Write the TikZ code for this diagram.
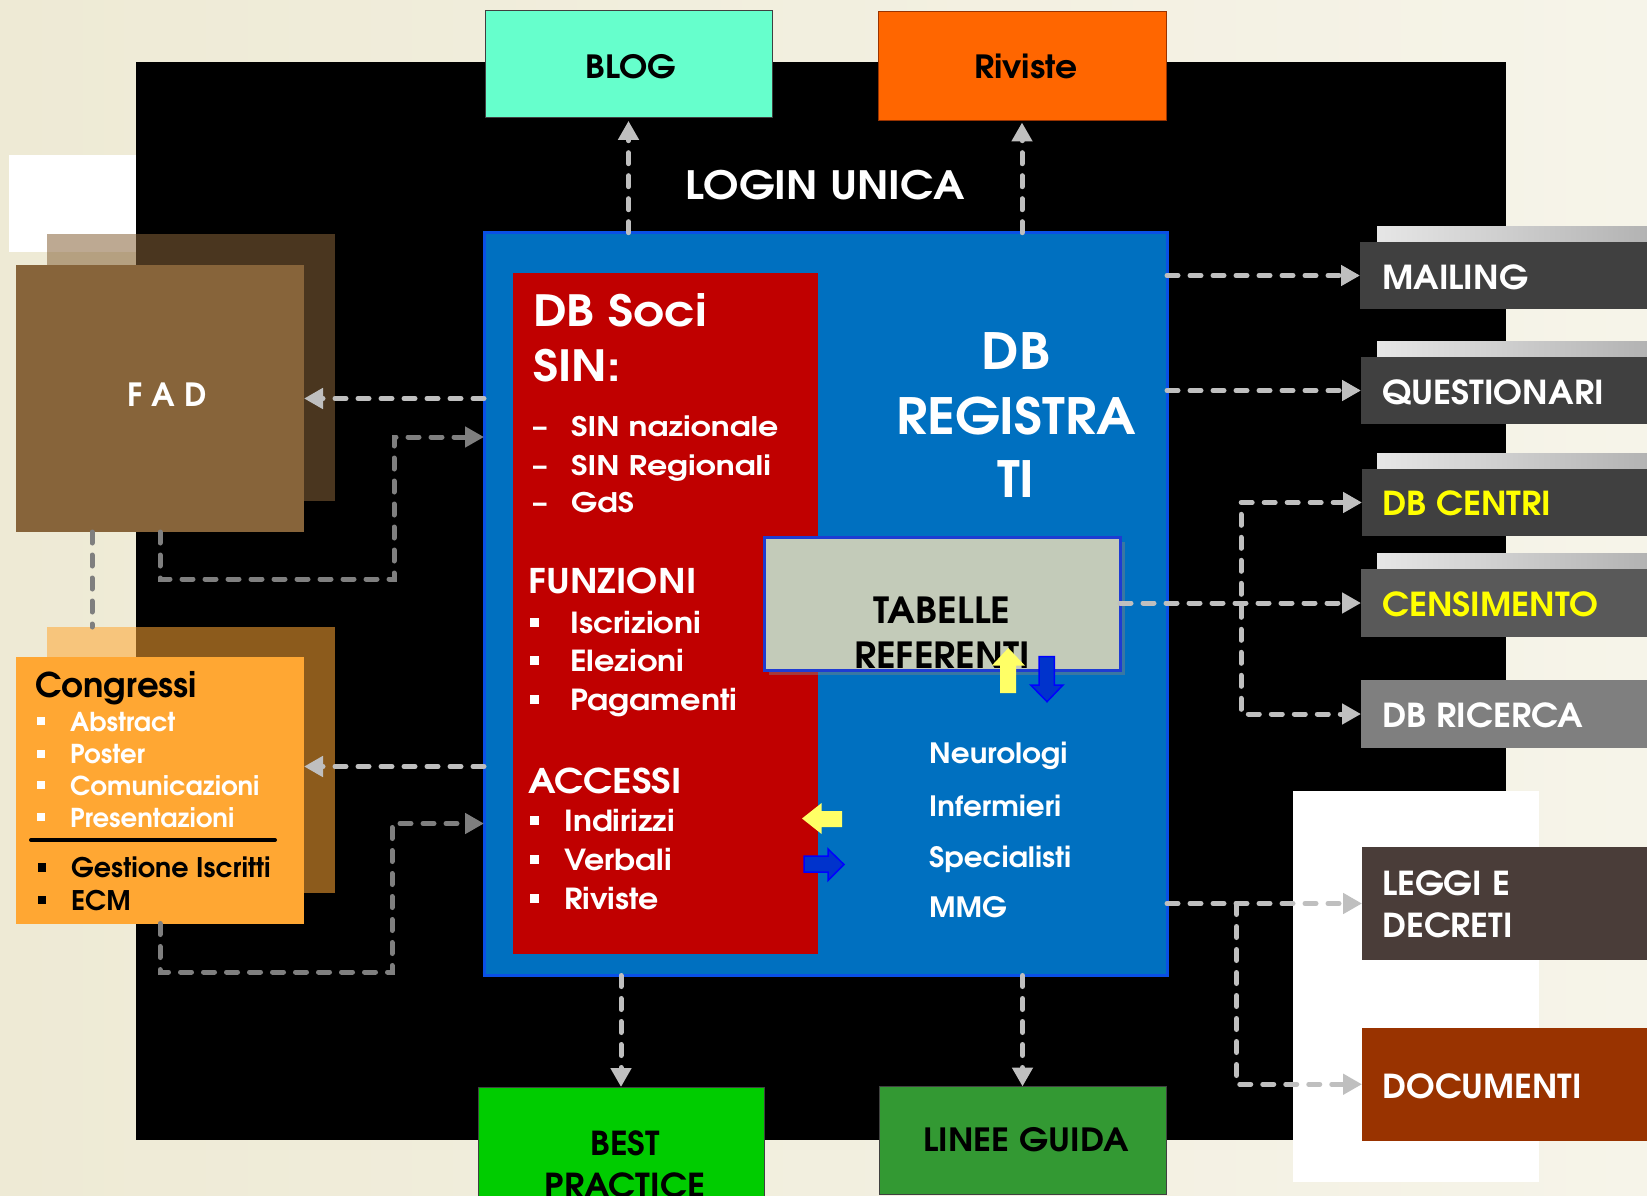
\documentclass[tikz,border=0pt]{standalone}
\usepackage{fontspec}
\usepackage{graphicx}
\setmainfont{texgyreadventor-regular.otf}[BoldFont=texgyreadventor-bold.otf]
\usetikzlibrary{arrows.meta,shadows}
\definecolor{bgL}{HTML}{EEEAD5}
\definecolor{bgR}{HTML}{F6F4E9}
\definecolor{fadc}{HTML}{87643A}
\definecolor{congc}{HTML}{FFA733}
\definecolor{blogc}{HTML}{66FFCC}
\definecolor{rivc}{HTML}{FF6600}
\definecolor{bluec}{HTML}{0070C0}
\definecolor{blueb}{HTML}{0A50E6}
\definecolor{redc}{HTML}{C00000}
\definecolor{tabc}{HTML}{C3CBB9}
\definecolor{tabb}{HTML}{1E3CD2}
\definecolor{dk}{HTML}{404040}
\definecolor{censc}{HTML}{595959}
\definecolor{ricc}{HTML}{7F7F7F}
\definecolor{leggic}{HTML}{4A3D39}
\definecolor{docc}{HTML}{993300}
\definecolor{bestc}{HTML}{00CC00}
\definecolor{lineec}{HTML}{339933}
\definecolor{lgray}{HTML}{BFBFBF}
\definecolor{dgray}{HTML}{7F7F7F}
\definecolor{barL}{HTML}{E6E6E6}
\definecolor{barR}{HTML}{B3B3B3}
\definecolor{ylw}{HTML}{FFFF66}
\definecolor{ylwt}{HTML}{FFFF00}
\definecolor{arrb}{HTML}{0033CC}
\newcommand\fs[1]{\fontsize{#1}{#1}\selectfont\bfseries}
\newcommand\fr[1]{\fontsize{#1}{#1}\selectfont}
\newcommand\sqbul{\rule[0.22em]{0.3em}{0.3em}}
\newcommand\hs[2]{\scalebox{#1}[1]{#2}}
\begin{document}
\begin{tikzpicture}[x=1pt,y=-1pt,
  box/.style={rectangle, inner sep=0pt, outer sep=0pt, anchor=north west},
  tl/.style={inner sep=0pt, anchor=base west},
  tc/.style={inner sep=0pt, anchor=base},
  conn/.style={draw=lgray, line width=5pt, line cap=round, dash pattern=on 11pt off 12pt},
  arr/.style={conn, -{Triangle[length=19pt,width=20pt]}},
  darr/.style={arr, draw=dgray}]
\clip (0,0) rectangle (1647,1196);
\shade[left color=bgL, right color=bgR] (0,0) rectangle (1647,1196);
% backdrop
\fill[white] (9,155) rectangle (136,252);
\fill[black] (136,62.4) rectangle (1506,1140);
\fill[white] (1293,791) rectangle (1539,1182);
% left boxes
\node[box, fill=fadc, fill opacity=.55, minimum width=288pt, minimum height=266.6pt] (fadsh) at (47,234) {};
\node[box, fill=fadc, minimum width=288pt, minimum height=267pt] (fad) at (16,265) {};
\node[box, fill=congc, fill opacity=.55, minimum width=288pt, minimum height=266.4pt] (congsh) at (47,627) {};
\node[box, fill=congc, minimum width=288pt, minimum height=266.5pt] (cong) at (16,657) {};
% top boxes
\node[box, fill=blogc, draw=dk, line width=1pt, minimum width=287pt, minimum height=107.6pt] (blog) at (485,10.3) {};
\node[box, fill=rivc, draw=docc, line width=1pt, minimum width=288pt, minimum height=108.5pt] (riv) at (878,12) {};
% right boxes
\shade[left color=barL, right color=barR] (1377,226) rectangle (1647,242);
\shade[left color=barL, right color=barR] (1377,341) rectangle (1647,357);
\shade[left color=barL, right color=barR] (1377,453) rectangle (1647,469);
\shade[left color=barL, right color=barR] (1377,553) rectangle (1647,569);
\node[box, fill=dk, minimum width=287pt, minimum height=67pt] (mail) at (1360,242) {};
\node[box, fill=dk, minimum width=286pt, minimum height=67pt] (quest) at (1361,357) {};
\node[box, fill=dk, minimum width=285pt, minimum height=67pt] (dbc) at (1362,469) {};
\node[box, fill=censc, minimum width=286pt, minimum height=68pt] (cens) at (1361,569) {};
\node[box, fill=ricc, minimum width=286pt, minimum height=68pt] (dbr) at (1361,680) {};
\node[box, fill=leggic, minimum width=285pt, minimum height=113pt] (leggi) at (1362,847) {};
\node[box, fill=docc, minimum width=285pt, minimum height=112.5pt] (docs) at (1362,1028) {};
% bottom boxes
\node[box, fill=bestc, draw=dk, line width=1pt, minimum width=286pt, minimum height=118pt] (best) at (478,1087) {};
\node[box, fill=lineec, draw=dk, line width=1pt, minimum width=287pt, minimum height=107.5pt] (linee) at (879,1086.5) {};
% central
\node[box, fill=bluec, draw=blueb, line width=3pt, minimum width=683pt, minimum height=742.8pt] (blue) at (484,232.7) {};
\node[box, fill=redc, minimum width=305pt, minimum height=681.5pt] (red) at (513,272.5) {};
\node[box, fill=tabc, draw=tabb, line width=3pt, minimum width=356pt, minimum height=133pt,
  drop shadow={shadow xshift=5pt, shadow yshift=-5pt, opacity=.45}] (tab) at (764,537) {};
% connectors
\draw[arr, shorten >=3pt] (blog.south |- blue.north) -- (blog.south);
\draw[arr, shorten >=2pt] (riv.south |- blue.north) -- (riv.south);
\draw[arr] (blue.west |- fad.east) -- (fad.east);
\coordinate (fa) at (394,579);
\coordinate (fb) at (0,437);
\draw[darr] (fad.south) |- (fa) |- (blue.west |- fb);
\coordinate (cy) at (0,766.5);
\draw[arr] (blue.west |- cy) -- (cong.east |- cy);
\coordinate (ca) at (392,972);
\coordinate (cb) at (0,823.5);
\draw[darr] (cong.south) |- (ca) |- (blue.west |- cb);
\coordinate (vx) at (92,0);
\draw[conn, draw=dgray] (fad.south -| vx) -- (congsh.north -| vx);
\draw[arr] (blue.east |- mail.west) -- (mail.west);
\draw[arr] (blue.east |- quest.west) -- (quest.west);
\draw[arr] (tab.east |- cens.west) -- (cens.west);
\coordinate (bx) at (1241,0);
\draw[conn, {Triangle[length=19pt,width=20pt]}-{Triangle[length=19pt,width=20pt]}] (dbc.west) -| (bx |- cens.west) |- (dbr.west);
\draw[arr] (blue.east |- leggi.west) -- (leggi.west);
\coordinate (lx) at (1236.5,0);
\draw[arr] (leggi.west -| lx) |- (docs.west);
\draw[arr] (best.north |- blue.south) -- (best.north);
\draw[arr] (linee.north |- blue.south) -- (linee.north);
% texts top
\node[tc, font={\fs{32}}, text=black] (blogt) at (631,78.5) {\hs{1.06}{BLOG}};
\node[tc, font={\fs{32}}, text=black] (rivt) at (1026,78.5) {\hs{1.08}{Riviste}};
\node[tc, font={\fs{39}}, text=white] (login) at (825,199) {\hs{1.09}{LOGIN UNICA}};
\node[tc, font={\fs{32}}, text=white] (fadt) at (167,406.4) {F A D};
% red box texts
\node[tl, font={\fs{43}}, text=white] (soci1) at (533,326.7) {\hs{1.12}{DB Soci}};
\node[tl, font={\fs{43}}, text=white] (soci2) at (533,381.7) {\hs{1.12}{SIN:}};
\node[tl, font={\fs{27}}, text=white] (s1) at (533,436.7) {\makebox[38pt][l]{–}\hs{1.17}{SIN nazionale}};
\node[tl, font={\fs{27}}, text=white] (s2) at (533,475) {\makebox[38pt][l]{–}\hs{1.17}{SIN Regionali}};
\node[tl, font={\fs{27}}, text=white] (s3) at (533,512.7) {\makebox[38pt][l]{–}\hs{1.15}{GdS}};
\node[tl, font={\fs{34}}, text=white] (funz) at (528,593) {\hs{1.1}{FUNZIONI}};
\node[tl, font={\fs{29}}, text=white] (f1) at (530,633.5) {\makebox[40pt][l]{\sqbul}\hs{1.1}{Iscrizioni}};
\node[tl, font={\fs{29}}, text=white] (f2) at (530,671.5) {\makebox[40pt][l]{\sqbul}\hs{1.1}{Elezioni}};
\node[tl, font={\fs{29}}, text=white] (f3) at (530,710) {\makebox[40pt][l]{\sqbul}\hs{1.1}{Pagamenti}};
\node[tl, font={\fs{34}}, text=white] (acc) at (528,793) {\hs{1.1}{ACCESSI}};
\node[tl, font={\fs{29}}, text=white] (a1) at (530,831) {\makebox[34pt][l]{\sqbul}\hs{1.09}{Indirizzi}};
\node[tl, font={\fs{29}}, text=white] (a2) at (530,870.5) {\makebox[34pt][l]{\sqbul}\hs{1.09}{Verbali}};
\node[tl, font={\fs{29}}, text=white] (a3) at (530,909) {\makebox[34pt][l]{\sqbul}\hs{1.09}{Riviste}};
% blue box texts
\node[tc, font={\fs{50}}, text=white] (reg1) at (1016,369) {\hs{1.07}{DB}};
\node[tc, font={\fs{50}}, text=white] (reg2) at (1016,434) {\hs{1.07}{REGISTRA}};
\node[tc, font={\fs{50}}, text=white] (reg3) at (1016,497.5) {\hs{1.07}{TI}};
\node[tc, font={\fs{36}}, text=black] (tab1) at (942,623) {\hs{1.05}{TABELLE}};
\node[tc, font={\fs{36}}, text=black] (tab2) at (942,668) {\hs{1.05}{REFERENTI}};
\node[tl, font={\fs{28}}, text=white] (n1) at (929,763.4) {\hs{1.05}{Neurologi}};
\node[tl, font={\fs{28}}, text=white] (n2) at (929,816) {\hs{1.05}{Infermieri}};
\node[tl, font={\fs{28}}, text=white] (n3) at (929,867) {\hs{1.05}{Specialisti}};
\node[tl, font={\fs{28}}, text=white] (n4) at (929,917.4) {\hs{1.05}{MMG}};
% small block arrows
\fill[ylw] (1000,693) -- (1000,665.7) -- (991.7,665.7) -- (1008.3,648) -- (1025,665.7) -- (1016,665.7) -- (1016,693) -- cycle;
\filldraw[fill=arrb, draw=blue, line width=1.5pt] (1039,656.7) -- (1054.3,656.7) -- (1054.3,685) -- (1063,685) -- (1047,701.7) -- (1030.7,685) -- (1039,685) -- cycle;
\fill[ylw] (802,818.5) -- (821.6,803) -- (821.6,811) -- (842,811) -- (842,827) -- (821.6,827) -- (821.6,834) -- cycle;
\filldraw[fill=arrb, draw=blue, line width=1.5pt] (804,856) -- (828,856) -- (828,849) -- (844,864.5) -- (828,880.5) -- (828,872) -- (804,872) -- cycle;
% congressi texts
\node[tl, font={\fs{34}}, text=black] (cg) at (35,697) {Congressi};
\node[tl, font={\fs{26}}, text=white] (c1) at (37,731) {\makebox[33pt][l]{\sqbul}Abstract};
\node[tl, font={\fs{26}}, text=white] (c2) at (37,763.5) {\makebox[33pt][l]{\sqbul}Poster};
\node[tl, font={\fs{26}}, text=white] (c3) at (37,795) {\makebox[33pt][l]{\sqbul}Comunicazioni};
\node[tl, font={\fs{26}}, text=white] (c4) at (37,827) {\makebox[33pt][l]{\sqbul}Presentazioni};
\draw[line width=4pt, line cap=round] (31,840) -- (275,840);
\node[tl, font={\fs{27}}, text=black] (c5) at (38,877.5) {\makebox[33pt][l]{\sqbul}Gestione Iscritti};
\node[tl, font={\fs{27}}, text=black] (c6) at (38,910) {\makebox[33pt][l]{\sqbul}ECM};
% right texts
\node[tl, font={\fs{33}}, text=white] (mailt) at (1382,289) {\hs{1.05}{MAILING}};
\node[tl, font={\fs{33}}, text=white] (questt) at (1382,404) {\hs{1.05}{QUESTIONARI}};
\node[tl, font={\fs{33}}, text=ylwt] (dbct) at (1382,515) {\hs{1.05}{DB CENTRI}};
\node[tl, font={\fs{33}}, text=ylwt] (censt) at (1382,616) {\hs{1.05}{CENSIMENTO}};
\node[tl, font={\fs{33}}, text=white] (dbrt) at (1382,727.5) {\hs{1.05}{DB RICERCA}};
\node[tl, font={\fs{33}}, text=white] (leg1) at (1382,895.7) {\hs{1.04}{LEGGI E}};
\node[tl, font={\fs{33}}, text=white] (leg2) at (1382,937.5) {\hs{1.04}{DECRETI}};
\node[tl, font={\fs{33}}, text=white] (doct) at (1382,1098) {\hs{1.04}{DOCUMENTI}};
% bottom texts
\node[tc, font={\fs{33}}, text=black] (best1) at (625,1155) {\hs{1.03}{BEST}};
\node[tc, font={\fs{33}}, text=black] (best2) at (625,1197) {\hs{1.05}{PRACTICE}};
\node[tc, font={\fs{32}}, text=black] (lineet) at (1026,1151) {\hs{1.08}{LINEE GUIDA}};
\end{tikzpicture}
\end{document}
